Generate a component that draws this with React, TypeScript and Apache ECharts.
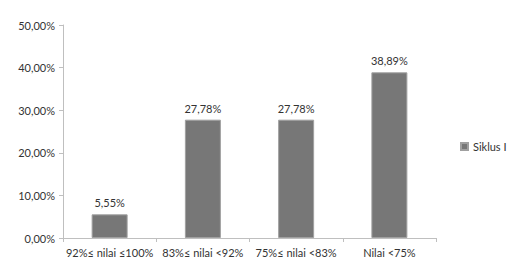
import React, { useEffect, useRef } from "react";
import * as echarts from "echarts";

const categories = ["92%≤ nilai ≤100%", "83%≤ nilai <92%", "75%≤ nilai <83%", "Nilai <75%"];
const siklus1 = [5.55, 27.78, 27.78, 38.89];
const seriesName = "Siklus I";

const fmt = (v: number) => v.toFixed(2).replace(".", ",") + "%";

export default function App() {
  const ref = useRef<HTMLDivElement>(null);
  useEffect(() => {
    const chart = echarts.init(ref.current!, null, { renderer: "svg" });
    const font = "Lato, 'Open Sans', sans-serif";
    chart.setOption({
      animation: false,
      backgroundColor: "#ffffff",
      textStyle: { fontFamily: font },
      grid: { left: 55, right: 85, top: 17, bottom: 27, containLabel: false },
      legend: {
        data: [seriesName],
        orient: "vertical",
        left: 447,
        top: 128,
        itemWidth: 7,
        itemHeight: 7,
        itemGap: 4,
        icon: "rect",
        textStyle: { fontSize: 11, color: "#333333", fontFamily: font },
      },
      xAxis: {
        type: "category",
        data: categories,
        boundaryGap: true,
        axisLine: { lineStyle: { color: "#bfbfbf", width: 1 } },
        axisTick: { show: true, alignWithLabel: false, length: 4, lineStyle: { color: "#bfbfbf" } },
        axisLabel: { fontSize: 11, color: "#333333", margin: 9, interval: 0, fontFamily: font },
      },
      yAxis: {
        type: "value",
        min: 0,
        max: 50,
        interval: 10,
        axisLine: { show: true, lineStyle: { color: "#bfbfbf", width: 1 } },
        axisTick: { show: true, length: 4, inside: false, lineStyle: { color: "#bfbfbf" } },
        splitLine: { show: false },
        axisLabel: { fontSize: 11, color: "#333333", margin: 8, formatter: (v: number) => fmt(v), fontFamily: font },
      },
      series: [
        {
          name: seriesName,
          type: "bar",
          data: siklus1,
          barWidth: 36,
          itemStyle: { color: "#777777", borderColor: "#a0a0a0", borderWidth: 1 },
          label: {
            show: true,
            position: "top",
            distance: 6,
            fontSize: 11,
            color: "#333333",
            fontFamily: font,
            formatter: (p: any) => fmt(p.value),
          },
        },
      ],
    });
    return () => chart.dispose();
  }, []);
  return <div ref={ref} style={{ width: 513, height: 257 }} />;
}
